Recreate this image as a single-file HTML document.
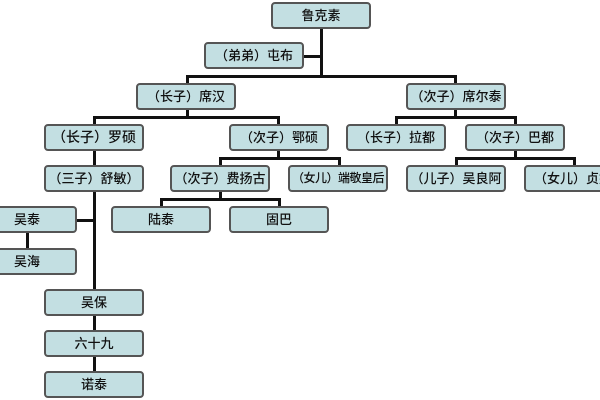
<!DOCTYPE html>
<html><head><meta charset="utf-8"><style>
body{margin:0;width:600px;height:400px;background:#fff;position:relative;overflow:hidden;font-family:"Liberation Sans","Noto Sans CJK SC",sans-serif}
.b{position:absolute;box-sizing:border-box;height:27px;width:100px;background:#c3dfe2;border:2px solid #555;border-radius:4px;font-size:13px;line-height:23px;text-align:center;color:#111;white-space:nowrap;overflow:hidden;font-weight:500}
.h{position:absolute;height:3px;background:#111}
.v{position:absolute;width:3px;background:#111}
</style></head><body>
<div class="v" style="left:320px;top:28px;height:49px"></div>
<div class="h" style="left:304px;top:55px;width:17px"></div>
<div class="h" style="left:186px;top:75px;width:270px"></div>
<div class="v" style="left:186px;top:75px;height:9px"></div>
<div class="v" style="left:454px;top:75px;height:9px"></div>
<div class="v" style="left:186px;top:110px;height:8px"></div>
<div class="h" style="left:93px;top:116px;width:187px"></div>
<div class="v" style="left:93px;top:116px;height:9px"></div>
<div class="v" style="left:277px;top:116px;height:9px"></div>
<div class="v" style="left:454px;top:110px;height:8px"></div>
<div class="h" style="left:395px;top:116px;width:121px"></div>
<div class="v" style="left:395px;top:116px;height:9px"></div>
<div class="v" style="left:514px;top:116px;height:9px"></div>
<div class="v" style="left:93px;top:151px;height:14px"></div>
<div class="v" style="left:277px;top:151px;height:7px"></div>
<div class="h" style="left:219px;top:157px;width:122px"></div>
<div class="v" style="left:219px;top:157px;height:9px"></div>
<div class="v" style="left:338px;top:157px;height:9px"></div>
<div class="v" style="left:514px;top:151px;height:7px"></div>
<div class="h" style="left:455px;top:157px;width:121px"></div>
<div class="v" style="left:455px;top:157px;height:9px"></div>
<div class="v" style="left:573px;top:157px;height:9px"></div>
<div class="v" style="left:219px;top:192px;height:7px"></div>
<div class="h" style="left:160px;top:198px;width:120px"></div>
<div class="v" style="left:160px;top:198px;height:9px"></div>
<div class="v" style="left:278px;top:198px;height:9px"></div>
<div class="v" style="left:93px;top:192px;height:98px"></div>
<div class="h" style="left:77px;top:219px;width:17px"></div>
<div class="v" style="left:26px;top:233px;height:16px"></div>
<div class="v" style="left:93px;top:316px;height:15px"></div>
<div class="v" style="left:93px;top:357px;height:15px"></div>
<div class="b" style="left:271px;top:2px">鲁克素</div>
<div class="b" style="left:204px;top:42px">（弟弟）屯布</div>
<div class="b" style="left:136px;top:83px">（长子）席汉</div>
<div class="b" style="left:406px;top:83px">（次子）席尔泰</div>
<div class="b" style="left:44px;top:124px;font-size:14px">（长子）罗硕</div>
<div class="b" style="left:229px;top:124px">（次子）鄂硕</div>
<div class="b" style="left:346px;top:124px">（长子）拉都</div>
<div class="b" style="left:465px;top:124px">（次子）巴都</div>
<div class="b" style="left:44px;top:165px">（三子）舒敏）</div>
<div class="b" style="left:170px;top:165px">（次子）费扬古</div>
<div class="b" style="left:288px;top:165px;font-size:12px;letter-spacing:-0.5px">（女儿）端敬皇后</div>
<div class="b" style="left:406px;top:165px">（儿子）吴良阿</div>
<div class="b" style="left:524px;top:165px;text-align:left;padding-left:8px">（女儿）贞妃</div>
<div class="b" style="left:111px;top:206px">陆泰</div>
<div class="b" style="left:229px;top:206px">固巴</div>
<div class="b" style="left:-23px;top:206px">吴泰</div>
<div class="b" style="left:-23px;top:248px">吴海</div>
<div class="b" style="left:44px;top:289px">吴保</div>
<div class="b" style="left:44px;top:330px">六十九</div>
<div class="b" style="left:44px;top:371px">诺泰</div>
</body></html>
